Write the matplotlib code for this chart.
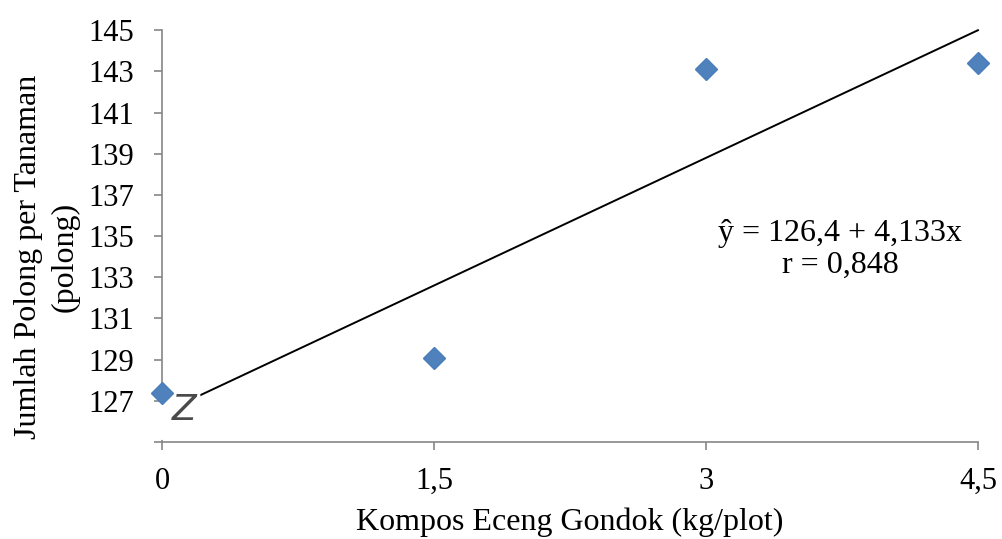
import matplotlib
matplotlib.use("Agg")
import matplotlib.pyplot as plt
from matplotlib.patches import Polygon

# Data
x_vals = [0, 1.5, 3, 4.5]
y_vals = [127.4, 129.1, 143.1, 143.4]
x_ticks = [0, 1.5, 3, 4.5]
x_ticklabels = ["0", "1,5", "3", "4,5"]
y_ticks = [127, 129, 131, 133, 135, 137, 139, 141, 143, 145]
y_ticklabels = ["127", "129", "131", "133", "135", "137", "139", "141", "143", "145"]
intercept = 126.4
slope = 4.133
equation = "ŷ = 126,4 + 4,133x"
r_text = "r = 0,848"
x_label = "Kompos Eceng Gondok (kg/plot)"
y_label = "Jumlah Polong per Tanaman\n(polong)"

plt.rcParams['font.family'] = ['Liberation Serif', 'DejaVu Serif']

fig = plt.figure(figsize=(10.02, 5.39), dpi=100)
ax = fig.add_axes([0.1617, 0.180, 0.8143, 0.764])

gray = "#868686"
ax.set_xlim(0, 4.5)
ax.set_ylim(125, 145)

line_x = [0, 4.5]
line_y = [intercept + slope * v for v in line_x]
ax.plot(line_x, line_y, color="black", lw=1.4, clip_on=False, zorder=3)
ax.plot(x_vals, y_vals, linestyle="none", marker="D", markersize=10.8,
        markerfacecolor="#4F81BD", markeredgecolor="#4A7EBB", clip_on=False, zorder=7)

for s in ["top", "right"]:
    ax.spines[s].set_visible(False)
for s in ["left", "bottom"]:
    ax.spines[s].set_color(gray)
    ax.spines[s].set_linewidth(1.2)

ax.set_xticks(x_ticks)
ax.set_xticklabels(x_ticklabels)
ax.set_yticks([125] + y_ticks)
ax.set_yticklabels([""] + y_ticklabels)
ax.tick_params(axis="both", direction="out", length=6, width=1.2, color=gray,
               labelsize=22)
ax.tick_params(axis="x", pad=12)
ax.tick_params(axis="y", pad=14)

ax.set_xlabel(x_label, fontsize=23)
ax.xaxis.set_label_coords(0.5, -0.158)
ax.xaxis.label.set_va("top")
ax.set_ylabel(y_label, fontsize=23, linespacing=1.35)
ax.yaxis.set_label_coords(-0.1005, 0.449)

# axis break symbol
brk = Polygon([[-0.0276, 126.89], [0.2096, 127.43], [0.237, 125.29],
               [0.022, 125.10], [-0.0276, 125.10]],
              closed=True, facecolor="white", edgecolor="none",
              transform=ax.transData, clip_on=False, zorder=5)
ax.add_patch(brk)
ax.text(0.121, 126.55, "Z", fontsize=26, family="DejaVu Sans", style="oblique",
        color="#2a2a2a", alpha=0.85, ha="center", va="center", zorder=6, clip_on=False)

ax.text(0.831, 0.507, equation, transform=ax.transAxes, fontsize=23,
        ha="center", va="center")
ax.text(0.831, 0.430, r_text, transform=ax.transAxes, fontsize=23,
        ha="center", va="center")

fig.savefig("out.png", dpi=100)
